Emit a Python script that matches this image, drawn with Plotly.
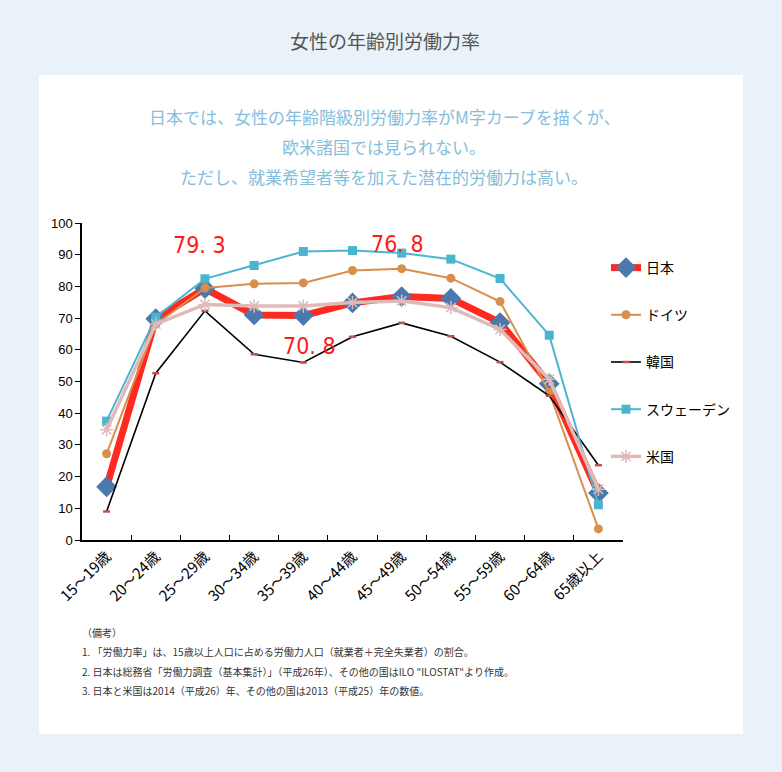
import plotly.graph_objects as go

categories = ["15～19歳", "20～24歳", "25～29歳", "30～34歳", "35～39歳", "40～44歳",
              "45～49歳", "50～54歳", "55～59歳", "60～64歳", "65歳以上"]
japan = [16.8, 69.8, 79.3, 71.0, 70.8, 74.8, 76.8, 76.2, 68.6, 49.3, 14.8]
germany = [27.2, 68.0, 79.5, 80.8, 81.1, 85.0, 85.6, 82.6, 75.2, 46.6, 3.5]
korea = [9.0, 52.6, 72.3, 58.6, 56.0, 64.1, 68.5, 64.3, 56.1, 45.5, 23.6]
sweden = [37.5, 70.3, 82.4, 86.6, 91.0, 91.3, 90.5, 88.6, 82.5, 64.6, 11.1]
usa = [34.8, 68.1, 74.3, 73.8, 73.8, 74.9, 75.4, 73.3, 66.4, 50.7, 16.0]

legend_names = ["日本", "ドイツ", "韓国", "スウェーデン", "米国"]
highlight_idx = [2, 4, 6]
highlight_text = ["79. 3", "70. 8", "76. 8"]

title_text = "女性の年齢別労働力率"
subtitle_lines = ["日本では、女性の年齢階級別労働力率がM字カーブを描くが、",
                  "欧米諸国では見られない。",
                  "ただし、就業希望者等を加えた潜在的労働力は高い。"]
notes = ["（備考）",
         "1. 「労働力率」は、15歳以上人口に占める労働力人口（就業者＋完全失業者）の割合。",
         "2. 日本は総務省「労働力調査（基本集計）」（平成26年）、その他の国はILO \"ILOSTAT\"より作成。",
         "3. 日本と米国は2014（平成26）年、その他の国は2013（平成25）年の数値。"]

W, H = 782, 772
L, R, T, B = 82, 623, 223, 540
pw, ph = R - L, B - T

def px(x):
    return (x - L) / pw

def py(y):
    return (B - y) / ph

fig = go.Figure()

fig.add_trace(go.Scatter(x=categories, y=japan, name=legend_names[0], mode="lines+markers",
                         line=dict(color="#ff2a1f", width=7),
                         marker=dict(symbol="diamond", size=16, color="#4b79ab"),
                         legendgroup="a", legendrank=1))
fig.add_trace(go.Scatter(x=categories, y=germany, name=legend_names[1], mode="lines+markers",
                         line=dict(color="#d98f4c", width=2),
                         marker=dict(symbol="circle", size=9, color="#d98f4c"),
                         legendgroup="b", legendrank=2))
fig.add_trace(go.Scatter(x=categories, y=korea, name=legend_names[2], mode="lines+markers",
                         line=dict(color="#000000", width=1.6),
                         marker=dict(symbol="line-ew", size=5, color="#c0504d",
                                     line=dict(color="#c0504d", width=2.5)),
                         legendgroup="c", legendrank=3))
fig.add_trace(go.Scatter(x=categories, y=sweden, name=legend_names[3], mode="lines+markers",
                         line=dict(color="#4bb5cf", width=2),
                         marker=dict(symbol="square", size=9, color="#4bb5cf"),
                         legendgroup="d", legendrank=4))
fig.add_trace(go.Scatter(x=categories, y=usa, name=legend_names[4], mode="lines+markers",
                         line=dict(color="#e0b9b9", width=3.5),
                         marker=dict(symbol="asterisk-open", size=11, color="#e0b9b9",
                                     line=dict(color="#e0b9b9", width=1.5)),
                         legendgroup="e", legendrank=5))

annotations = []
offsets = {2: (-5, 44), 4: (6, -30), 6: (-4, 53)}
for i, t in zip(highlight_idx, highlight_text):
    dx, dy = offsets[i]
    annotations.append(dict(x=categories[i], y=japan[i], xref="x", yref="y", text=t,
                            showarrow=False, xshift=dx, yshift=dy, yanchor="middle",
                            font=dict(family="DejaVu Sans Condensed, DejaVu Sans",
                                      size=23, color="#ff1a1a")))

annotations.append(dict(x=px(385), y=py(40), xref="paper", yref="paper", text=title_text,
                        showarrow=False, yanchor="middle",
                        font=dict(family="Noto Sans CJK JP", size=19, color="#555555")))
for k, line in enumerate(subtitle_lines):
    annotations.append(dict(x=px(384), y=py(116 + 30 * k), xref="paper", yref="paper", text=line,
                            showarrow=False, yanchor="middle",
                            font=dict(family="Noto Sans CJK JP", size=17, color="#86bedb")))
for k, line in enumerate(notes):
    annotations.append(dict(x=px(80), y=py(632 + 19.5 * k), xref="paper", yref="paper", text=line,
                            showarrow=False, xanchor="left", yanchor="middle",
                            font=dict(family="Noto Sans CJK JP", size=10, color="#333333")))

fig.update_layout(
    width=W, height=H,
    margin=dict(l=L, r=W - R, t=T, b=H - B, pad=0),
    paper_bgcolor="#e9f2f8", plot_bgcolor="#ffffff",
    showlegend=True,
    legend=dict(x=px(606), y=py(252), xanchor="left", yanchor="top",
                traceorder="grouped", tracegroupgap=26,
                font=dict(family="Noto Sans CJK JP", size=14, color="#000000"),
                bgcolor="rgba(0,0,0,0)", itemwidth=30),
    shapes=[dict(type="rect", xref="paper", yref="paper", x0=px(39), x1=px(743),
                 y0=py(734), y1=py(75), fillcolor="#ffffff", line=dict(width=0), layer="below")],
    annotations=annotations,
    font=dict(family="Noto Sans CJK JP"),
)

fig.update_xaxes(type="category", tickson="boundaries", ticks="inside", ticklen=5,
                 tickcolor="#000000", showline=True, linecolor="#000000", linewidth=1.5,
                 showgrid=False, tickangle=-45, range=[-0.5, 10.5],
                 tickfont=dict(family="Noto Sans CJK JP", size=15, color="#000000"))
fig.update_yaxes(range=[0, 100], dtick=10, ticks="outside", ticklen=5, tickcolor="#000000",
                 showline=True, linecolor="#000000", linewidth=1.5, showgrid=False,
                 zeroline=False,
                 tickfont=dict(family="Liberation Sans", size=13, color="#000000"))

fig.write_html("out.html", config={"displayModeBar": False},
               post_script="document.body.style.margin='0';document.body.style.background='#e9f2f8';")
